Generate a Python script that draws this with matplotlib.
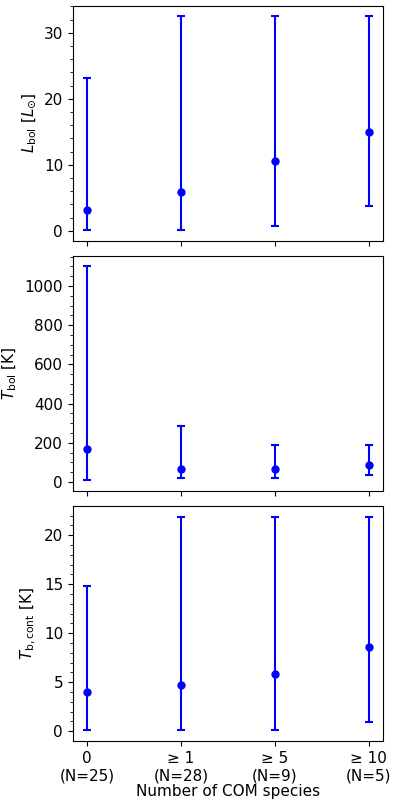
import matplotlib
matplotlib.use("Agg")
import matplotlib.pyplot as plt
from matplotlib.ticker import AutoMinorLocator

categories = ["0\n(N=25)", "≥ 1\n(N=28)", "≥ 5\n(N=9)", "≥ 10\n(N=5)"]

lbol_med = [3.2, 5.8, 10.5, 15.0]
lbol_lo = [0.1, 0.1, 0.7, 3.7]
lbol_hi = [23.2, 32.5, 32.5, 32.5]

tbol_med = [170, 65, 65, 85]
tbol_lo = [10, 20, 20, 35]
tbol_hi = [1100, 285, 190, 190]

tb_med = [4.05, 4.75, 5.85, 8.55]
tb_lo = [0.1, 0.1, 0.1, 0.95]
tb_hi = [14.8, 21.9, 21.9, 21.9]

panels = [
    (lbol_med, lbol_lo, lbol_hi, r"$L_{\rm bol}$ [$L_{\odot}$]"),
    (tbol_med, tbol_lo, tbol_hi, r"$T_{\rm bol}$ [K]"),
    (tb_med, tb_lo, tb_hi, r"$T_{\rm b,cont}$ [K]"),
]

plt.rcParams["font.size"] = 11
fig, axes = plt.subplots(3, 1, figsize=(3.98, 8.08), dpi=100, sharex=True)
fig.subplots_adjust(left=0.183, right=0.962, top=0.993, bottom=0.083, hspace=0.064)

x = list(range(len(categories)))
for ax, (med, lo, hi, lab) in zip(axes, panels):
    err = [[m - l for m, l in zip(med, lo)], [h - m for m, h in zip(med, hi)]]
    ax.errorbar(x, med, yerr=err, fmt="o", color="blue", ms=5,
                elinewidth=1.5, capsize=3, capthick=1.5)
    ax.set_ylabel(lab)
    ax.yaxis.set_minor_locator(AutoMinorLocator())

axes[-1].set_xticks(x)
axes[-1].set_xticklabels(categories)
axes[-1].set_xlabel("Number of COM species", labelpad=1)

plt.savefig("out.png")
